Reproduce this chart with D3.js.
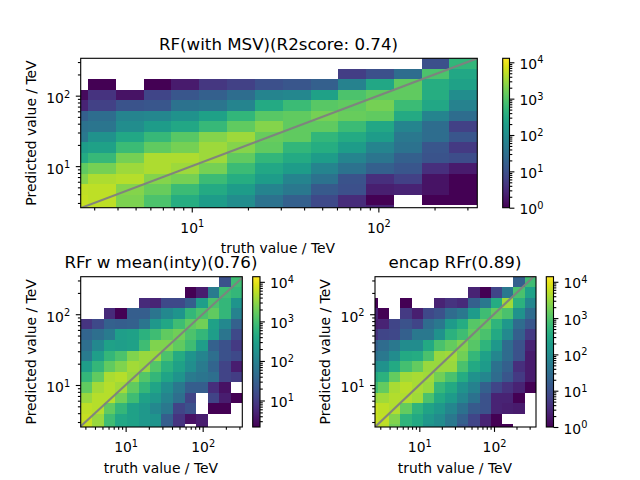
<!DOCTYPE html>
<html>
<head>
<meta charset="utf-8">
<script src="https://cdn.jsdelivr.net/npm/d3@7"></script>
<style>
  body { margin: 0; background: #fff; }
  text { font-family: "DejaVu Sans", sans-serif; fill: #000; }
</style>
</head>
<body>
<script>
// bin edges in TeV (first edge lies left of / below the axes and gets clipped)
const predEdges = [1.97, 2.78, 3.92, 5.52, 7.78, 10.96, 15.45, 21.8, 30.7, 43.3, 61, 85.9, 121, 171, 240, 339];
const truthEdgesMean = [2.61, 3.68, 5.2, 7.35, 10.4, 14.7, 20.7, 29.2, 41.2, 58.2, 82.2, 116, 164, 231, 327];
const truthEdgesEncap = [1.95, 2.77, 3.93, 5.57, 7.89, 11.2, 15.8, 22.4, 31.8, 45.1, 64, 90.6, 128, 182, 258, 365];

const _ = null;
const logCountsMsv = [
  [_, _, _, _, _, _, _, _, _, _, _, _, _, 1.0, 2.7],
  [_, _, _, _, _, _, _, _, _, _, 0.75, 1, 1.45, 2.95, 2.45],
  [_, 0, _, 0, 0.3, 0.65, 0.8, 1, 1.1, 1.25, 1.8, 2.45, 3.1, 2.55, 2.35],
  [0.1, 0.6, 0.2, 0.85, 1.1, 1.25, 1.45, 1.85, 1.9, 2.35, 2.95, 3.1, 3.1, 2.55, 2.0],
  [0.4, 0.8, 1.05, 1.1, 1.55, 1.6, 1.85, 2.5, 2.8, 3.05, 3.1, 3.25, 2.8, 2.45, 1.8],
  [1.25, 1.45, 1.85, 1.9, 2.1, 2.35, 2.7, 3.05, 3.1, 3.25, 3.15, 3.1, 2.5, 1.85, 1.45],
  [1.55, 1.6, 2.0, 2.25, 2.45, 2.75, 3.1, 3.35, 3.1, 3.1, 2.8, 2.45, 1.85, 1.45, 0.8],
  [1.65, 2.1, 2.45, 2.75, 3.05, 3.35, 3.5, 3.15, 3.1, 2.7, 2.5, 2.25, 1.65, 1.45, 1.1],
  [2.25, 2.35, 2.8, 3.1, 3.25, 3.5, 3.35, 3.1, 2.7, 2.55, 2.25, 1.85, 1.55, 1.1, 0.7],
  [2.5, 2.75, 3.25, 3.6, 3.6, 3.5, 3.1, 2.7, 2.5, 2.25, 1.85, 1.6, 1.25, 1.05, 0.95],
  [3.1, 3.25, 3.5, 3.6, 3.5, 3.25, 2.8, 2.45, 2.25, 1.85, 1.55, 1.25, 1.1, 0.55, 0.3],
  [3.35, 3.6, 3.65, 3.35, 3.25, 2.8, 2.55, 2.25, 1.85, 1.55, 1.05, 0.55, 0.8, 0.2, 0],
  [3.72, 3.7, 3.35, 3.15, 2.8, 2.5, 2.25, 1.85, 1.65, 1.15, 1, 0.35, 0.4, 0.2, 0],
  [3.75, 3.7, 3.3, 2.95, 2.55, 2.25, 2, 1.55, 1.25, 0.9, 0.5, 0, _, 0, 0],
  [3.75, 3.7, 3.3, 2.95, 2.55, 2.25, 2, 1.55, 1.25, 0.9, 0.5, 0.4, _, _, _]
];
const logCountsMean = [
  [_, _, _, _, _, _, _, _, _, _, _, _, 1.28, 2.95],
  [_, _, _, _, _, _, _, _, _, 0.33, 0.63, 1.9, 2.95, 2.85],
  [_, _, _, _, _, 0.79, 0.71, 1.17, 1.17, 1.45, 2.45, 3.05, 2.85, 2.3],
  [_, _, 0.79, 0.33, 1.45, 1.45, 1.8, 2.1, 2.3, 2.85, 3.05, 3.2, 2.85, 2],
  [0.9, 1.17, 1.5, 1.45, 1.5, 1.8, 2.35, 2.6, 2.95, 3.2, 3.3, 2.5, 2.1, 1.5],
  [1.55, 1.7, 1.9, 2.45, 2.5, 2.75, 2.95, 3.2, 3.3, 3.05, 2.85, 2.45, 1.8, 1.17],
  [1.7, 2.1, 2.5, 2.45, 2.5, 2.95, 3.4, 3.4, 3.2, 2.95, 2.45, 1.5, 1.28, 0.98],
  [1.9, 2.45, 2.85, 3.05, 3.4, 3.55, 3.55, 3.05, 2.65, 2.3, 2.05, 1.7, 1.28, 1.17],
  [2.45, 2.85, 3.2, 3.4, 3.6, 3.55, 3.1, 2.75, 2.5, 2.2, 1.9, 1.55, 1.09, 0.63],
  [2.85, 3.2, 3.65, 3.7, 3.55, 3.1, 2.85, 2.55, 2.3, 1.9, 1.8, 1.7, 1.09, 1.01],
  [3.2, 3.6, 3.7, 3.6, 3.2, 2.85, 2.55, 2.2, 1.85, 1.45, 1.45, 0.82, 0.5, _],
  [3.55, 3.7, 3.7, 3.3, 2.95, 2.5, 2.35, 2.05, 1.7, 1.09, _, 1.09, 0.63, 0.33],
  [3.75, 3.7, 3.2, 2.85, 2.5, 2.35, 2.1, 1.85, 1.09, 1.28, _, 0.33, 0.33, _],
  [3.8, 3.55, 2.95, 2.6, 2.5, 2.35, 2.3, 1.45, 0.9, 0.5, 0.63, _, _, _],
  [3.8, 3.55, 2.95, 2.6, 2.5, 2.35, 2.3, 1.45, 0.9, _, 0.63, _, _, _]
];
const logCountsEncap = [
  [_, _, _, _, _, _, _, _, _, _, _, _, _, 1.25, 2.85],
  [_, _, _, _, _, _, _, _, _, 0.4, 0, 0.85, 1.65, 2.95, 2.35],
  [0, _, _, 0, _, _, 0.4, 0.6, 0.5, 1.25, 1.65, 2.55, 3.55, 2.65, 1.9],
  [0.4, 0, _, 0.7, 0.35, 0.9, 1.05, 1.45, 1.65, 2.25, 2.85, 3.15, 2.95, 2.1, 1.45],
  [0.35, 0.4, 0.85, 1.05, 0.85, 1.45, 1.65, 2.25, 2.55, 3.05, 3.15, 2.7, 2.2, 1.45, 1.1],
  [0.6, 0.85, 0.9, 1.25, 1.65, 1.65, 2.1, 2.65, 2.85, 3.15, 2.95, 2.5, 1.95, 1.25, 0.7],
  [1.25, 1.45, 1.65, 2, 2, 2.5, 2.95, 3.15, 3.35, 3.05, 2.7, 2.2, 1.45, 1.05, 0.4],
  [1.55, 1.65, 2, 2.5, 2.55, 2.95, 3.5, 3.55, 3.25, 2.75, 2.35, 1.9, 1.45, 1.05, 0.3],
  [2, 2.1, 2.5, 2.9, 3.15, 3.5, 3.5, 3.5, 2.95, 2.5, 2.25, 1.55, 1.25, 0.55, 0.3],
  [2.5, 2.65, 3.15, 3.55, 3.6, 3.55, 3.25, 2.95, 2.55, 2.1, 1.9, 1.45, 1.1, 0.7, 0.3],
  [2.85, 3.15, 3.6, 3.7, 3.6, 3.5, 2.75, 2.5, 2.1, 1.8, 1.25, 0.85, 0.6, 0.4, 0],
  [3.5, 3.55, 3.67, 3.65, 3.55, 2.95, 2.5, 2.25, 1.9, 1.55, 1.05, 0.4, 0.4, 0, _],
  [3.8, 3.72, 3.65, 3.15, 2.7, 2.4, 2.2, 1.9, 1.55, 1.15, 1.05, 0.4, 0.35, 0.3, _],
  [3.8, 3.75, 3.35, 2.7, 2.5, 2.2, 2, 1.65, 1.25, 0.85, 0.4, 0, _, _, _],
  [3.8, 3.7, 3.25, 2.7, 2.5, 2.1, 2, 1.65, 1.1, 0.85, 0.4, 0, 0, _, _]
];

const majorTicks = [10, 100];
const minorTicks = [3, 4, 5, 6, 7, 8, 9, 20, 30, 40, 50, 60, 70, 80, 90, 200, 300];
const cbarMajor = [1, 10, 100, 1000, 10000];
const cbarMinor = [2, 3, 4, 5, 6, 7, 8, 9, 20, 30, 40, 50, 60, 70, 80, 90, 200, 300, 400, 500, 600, 700, 800, 900,
  2000, 3000, 4000, 5000, 6000, 7000, 8000, 9000];
const identityLine = [2.5, 370];

const panels = [
  {
    title: "RF(with MSV)(R2score: 0.74)", counts: logCountsMsv, xEdges: predEdges, yEdges: predEdges,
    xDomain: [2.54, 339], yDomain: [2.57, 339], cRange: [0, 4.11],
    left: 80.7, right: 477.3, top: 58.3, bottom: 207.7, cbarLeft: 502.7, cbarRight: 509.5,
    titleX: 278.5, titleY: 50, xLabelX: 278, xLabelY: 253, yLabelX: 36
  },
  {
    title: "RFr w mean(inty)(0.76)", counts: logCountsMean, xEdges: truthEdgesMean, yEdges: predEdges,
    xDomain: [2.61, 327], yDomain: [2.55, 339], cRange: [0.33, 4.13],
    left: 80.7, right: 242.3, top: 276.7, bottom: 427, cbarLeft: 252.7, cbarRight: 260,
    titleX: 161, titleY: 268, xLabelX: 161, xLabelY: 473, yLabelX: 36
  },
  {
    title: "encap RFr(0.89)", counts: logCountsEncap, xEdges: truthEdgesEncap, yEdges: predEdges,
    xDomain: [2.55, 365], yDomain: [2.55, 339], cRange: [0, 4.14],
    left: 375, right: 536, top: 276.7, bottom: 427, cbarLeft: 546.3, cbarRight: 553.5,
    titleX: 455, titleY: 268, xLabelX: 455, xLabelY: 473, yLabelX: 330
  }
];

const svg = d3.select("body").append("svg").attr("width", 640).attr("height", 480);
const defs = svg.append("defs");

// "10" with a raised exponent, real text
function powerLabels(sel) {
  sel.each(function (d) {
    const t = d3.select(this).text("10");
    t.append("tspan")
      .attr("font-size", 9.8)
      .attr("dy", -5.5)
      .text(Math.round(Math.log10(d)));
  });
}

function styleTicks(g) {
  g.select(".domain").remove();
  g.selectAll("line").attr("stroke", "#000").attr("stroke-width", 1.1);
}

function drawPanel(p, idx) {
  const x = d3.scaleLog().domain(p.xDomain).range([p.left, p.right]);
  const y = d3.scaleLog().domain(p.yDomain).range([p.bottom, p.top]);
  const color = d3.scaleSequential(d3.interpolateViridis).domain(p.cRange);

  defs.append("clipPath").attr("id", "clip" + idx)
    .append("rect")
    .attr("x", p.left).attr("y", p.top)
    .attr("width", p.right - p.left).attr("height", p.bottom - p.top);

  const plot = svg.append("g").attr("clip-path", `url(#clip${idx})`);
  const nRows = p.counts.length;

  plot.selectAll(".row")
    .data(p.counts)
    .enter()
    .append("g")
    .attr("class", "row")
    .each(function (row, r) {
      // rows are listed top first, edges run bottom up
      const lo = p.yEdges[nRows - 1 - r];
      const hi = p.yEdges[nRows - r];
      d3.select(this).selectAll("rect")
        .data(row.map((v, c) => ({ v, c })).filter(d => d.v !== null))
        .enter()
        .append("rect")
        .attr("x", d => x(p.xEdges[d.c]))
        .attr("width", d => x(p.xEdges[d.c + 1]) - x(p.xEdges[d.c]))
        .attr("y", y(hi))
        .attr("height", y(lo) - y(hi))
        .attr("fill", d => color(d.v))
        .attr("shape-rendering", "crispEdges");
    });

  plot.append("path")
    .datum(identityLine)
    .attr("d", d3.line().x(d => x(d)).y(d => y(d)))
    .attr("fill", "none")
    .attr("stroke", "#808080")
    .attr("stroke-opacity", 0.95)
    .attr("stroke-width", 2.1);

  // x axis
  svg.append("g")
    .attr("transform", `translate(0,${p.bottom})`)
    .call(d3.axisBottom(x).tickValues(minorTicks).tickSize(2.8).tickFormat(""))
    .call(styleTicks);
  svg.append("g")
    .attr("transform", `translate(0,${p.bottom})`)
    .call(d3.axisBottom(x).tickValues(majorTicks).tickSize(4.9))
    .call(styleTicks)
    .selectAll("text")
    .attr("y", 25.3).attr("dy", 0).attr("font-size", 13.9)
    .call(powerLabels);

  // y axis
  svg.append("g")
    .attr("transform", `translate(${p.left},0)`)
    .call(d3.axisLeft(y).tickValues(minorTicks).tickSize(2.8).tickFormat(""))
    .call(styleTicks);
  svg.append("g")
    .attr("transform", `translate(${p.left},0)`)
    .call(d3.axisLeft(y).tickValues(majorTicks).tickSize(4.9))
    .call(styleTicks)
    .selectAll("text")
    .attr("x", -10.5).attr("y", 7).attr("dy", 0).attr("font-size", 13.9)
    .call(powerLabels);

  svg.append("rect")
    .attr("x", p.left).attr("y", p.top)
    .attr("width", p.right - p.left).attr("height", p.bottom - p.top)
    .attr("fill", "none").attr("stroke", "#000").attr("stroke-width", 1.1);

  svg.append("text")
    .attr("x", p.titleX).attr("y", p.titleY)
    .attr("text-anchor", "middle").attr("font-size", 16.67)
    .text(p.title);
  svg.append("text")
    .attr("x", p.xLabelX).attr("y", p.xLabelY)
    .attr("text-anchor", "middle").attr("font-size", 13.9)
    .text("truth value / TeV");
  svg.append("text")
    .attr("transform", `translate(${p.yLabelX},${(p.top + p.bottom) / 2}) rotate(-90)`)
    .attr("text-anchor", "middle").attr("font-size", 13.9)
    .text("Predicted value / TeV");

  // colorbar
  const grad = defs.append("linearGradient")
    .attr("id", "cbar" + idx)
    .attr("x1", 0).attr("x2", 0).attr("y1", 1).attr("y2", 0);
  d3.range(0, 1.001, 0.05).forEach(t => {
    grad.append("stop").attr("offset", t).attr("stop-color", d3.interpolateViridis(t));
  });
  const cScale = d3.scaleLog()
    .domain(p.cRange.map(v => Math.pow(10, v)))
    .range([p.bottom, p.top]);

  svg.append("rect")
    .attr("x", p.cbarLeft).attr("y", p.top)
    .attr("width", p.cbarRight - p.cbarLeft).attr("height", p.bottom - p.top)
    .attr("fill", `url(#cbar${idx})`)
    .attr("stroke", "#000").attr("stroke-width", 1.1);

  const inRange = v => v >= cScale.domain()[0] && v <= cScale.domain()[1];
  svg.append("g")
    .attr("transform", `translate(${p.cbarRight},0)`)
    .call(d3.axisRight(cScale).tickValues(cbarMinor.filter(inRange)).tickSize(2.8).tickFormat(""))
    .call(styleTicks);
  svg.append("g")
    .attr("transform", `translate(${p.cbarRight},0)`)
    .call(d3.axisRight(cScale).tickValues(cbarMajor.filter(inRange)).tickSize(4.9))
    .call(styleTicks)
    .selectAll("text")
    .attr("x", 10).attr("y", 6).attr("dy", 0).attr("font-size", 13.9)
    .call(powerLabels);
}

panels.forEach(drawPanel);
</script>
</body>
</html>
